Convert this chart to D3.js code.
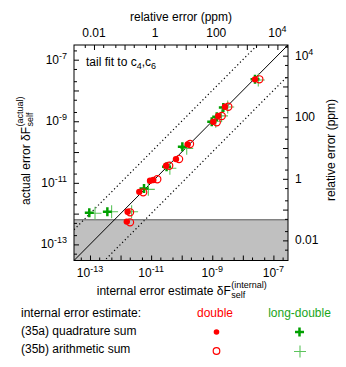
<!DOCTYPE html>
<html>
<head>
<meta charset="utf-8">
<script src="https://d3js.org/d3.v7.min.js"></script>
<style>
  body { margin: 0; background: #fff; }
  text { font-family: "Liberation Sans", Arial, sans-serif; font-size: 12px; fill: #000; }
</style>
</head>
<body>
<div id="chart"></div>
<script>
// each point: [internal error estimate, actual error]
var doubleQuad = [[1.7e-12, 1.15e-12], [1.6e-12, 5.5e-13], [4.1e-12, 5.1e-12], [9.2e-12, 1.17e-11],
  [1.18e-11, 1.23e-11], [3.1e-11, 3.6e-11], [6.5e-11, 5.9e-11], [1.57e-10, 1.78e-10],
  [1.08e-9, 9.6e-10], [1.57e-9, 1.5e-9], [2.6e-9, 2.96e-9], [2.5e-8, 2.3e-8]];
var doubleArith = [[2.04e-12, 1.1e-12], [2.04e-12, 5.2e-13], [5.5e-12, 4.9e-12], [1.59e-11, 1.3e-11],
  [3.9e-11, 3.6e-11], [8.2e-11, 5.9e-11], [1.87e-10, 1.82e-10], [1.4e-9, 9.2e-10],
  [2.04e-9, 1.48e-9], [3.34e-9, 2.96e-9], [3.46e-8, 2.3e-8]];
var longQuad = [[9.5e-14, 1.07e-12], [3.7e-13, 1.15e-12], [5.85e-12, 6.6e-12], [3.2e-11, 3.3e-11],
  [1.05e-10, 1.49e-10], [9.6e-10, 9.6e-10], [1.4e-9, 1.4e-9], [2.3e-9, 2.8e-9], [2.5e-8, 2.3e-8]];
var longArith = [[1.46e-13, 1.03e-12], [5.1e-13, 1.15e-12], [2.3e-12, 1.15e-12], [8.1e-12, 6.15e-12],
  [4.1e-11, 2.96e-11], [1.46e-10, 1.32e-10], [1.3e-9, 1.0e-9], [2.0e-9, 1.5e-9],
  [3.2e-9, 2.9e-9], [3.2e-8, 2.2e-8]];

var decadeLabels = [-13, -11, -9, -7];        // exponents labelled on both error axes
var ppmTicks = [0.01, 1, 100, 1e4];
var ppmLabels = ["0.01", "1", "100", "10^4"];
var floorLevel = 6.3e-13;                       // shaded region below this
var refValue = 1.35e-5;                         // value used for relative error
var lineFactors = [0.1, 1, 10];

var W = 346, H = 367;
var L = 74, R = 288, T = 45, B = 260.5;
var lo = 3e-14, hi = 3e-7;

var svg = d3.select("#chart").append("svg").attr("width", W).attr("height", H);

var x = d3.scaleLog().domain([lo, hi]).range([L, R]);
var y = d3.scaleLog().domain([lo, hi]).range([B, T]);
var xp = d3.scaleLog().domain([lo / refValue * 1e6, hi / refValue * 1e6]).range([L, R]);
var yp = d3.scaleLog().domain([lo / refValue * 1e6, hi / refValue * 1e6]).range([B, T]);

function tickSet(scale) {
  var d = scale.domain(), out = [];
  for (var e = Math.floor(Math.log10(d[0])) - 1; e <= Math.ceil(Math.log10(d[1])); e++) {
    [1, 2, 5].forEach(function(m) {
      var v = m * Math.pow(10, e);
      if (v >= d[0] * 0.999 && v <= d[1] * 1.001) out.push(v);
    });
  }
  return out;
}
function isDecade(v) { return Math.abs(Math.log10(v) - Math.round(Math.log10(v))) < 1e-6; }

svg.append("defs").append("clipPath").attr("id", "clip")
  .append("rect").attr("x", L).attr("y", T).attr("width", R - L).attr("height", B - T);

var plot = svg.append("g").attr("clip-path", "url(#clip)");

// shaded floor
plot.append("rect")
  .attr("x", L).attr("y", y(floorLevel))
  .attr("width", R - L).attr("height", B - y(floorLevel))
  .attr("fill", "#c0c0c0");
plot.append("line")
  .attr("x1", L).attr("x2", R).attr("y1", y(floorLevel)).attr("y2", y(floorLevel))
  .attr("stroke", "#555").attr("stroke-width", 1);

// reference lines y = f * x
lineFactors.forEach(function(f) {
  plot.append("line")
    .attr("x1", x(lo)).attr("y1", y(lo * f))
    .attr("x2", x(hi)).attr("y2", y(hi * f))
    .attr("stroke", "#000")
    .attr("stroke-width", f === 1 ? 1 : 1.2)
    .attr("stroke-dasharray", f === 1 ? null : "1.2,2.6");
});

// axes (ticks inward)
function tickAxis(axisFn, scale, transform) {
  var all = tickSet(scale);
  var maj = all.filter(isDecade), min = all.filter(function(v) { return !isDecade(v); });
  [[maj, -5], [min, -3]].forEach(function(p) {
    var g = svg.append("g").attr("transform", transform)
      .call(axisFn(scale).tickValues(p[0]).tickSize(p[1]).tickFormat(""));
    g.select(".domain").remove();
    g.selectAll(".tick line").attr("stroke", "#000");
  });
}
tickAxis(d3.axisBottom, x, "translate(0," + B + ")");
tickAxis(d3.axisTop, xp, "translate(0," + T + ")");
tickAxis(d3.axisLeft, y, "translate(" + L + ",0)");
tickAxis(d3.axisRight, yp, "translate(" + R + ",0)");

svg.append("rect").attr("x", L).attr("y", T).attr("width", R - L).attr("height", B - T)
  .attr("fill", "none").attr("stroke", "#000").attr("stroke-width", 1);

// labels with superscript powers
function powerText(sel, label) {
  var parts = String(label).split("^");
  sel.append("tspan").text(parts[0]);
  if (parts.length > 1) {
    sel.append("tspan").attr("dy", -5).style("font-size", "9px").text(parts[1]);
  }
}
decadeLabels.forEach(function(e) {
  var v = Math.pow(10, e);
  powerText(svg.append("text").attr("x", x(v)).attr("y", 277).attr("text-anchor", "middle"), "10^" + e);
  powerText(svg.append("text").attr("x", 67).attr("y", y(v) + 4).attr("text-anchor", "end"), "10^" + e);
});
ppmTicks.forEach(function(v, i) {
  powerText(svg.append("text").attr("x", xp(v)).attr("y", 37).attr("text-anchor", "middle"), ppmLabels[i]);
  powerText(svg.append("text").attr("x", 295).attr("y", yp(v) + 4).attr("text-anchor", "start"), ppmLabels[i]);
});

// titles
svg.append("text").attr("x", 181).attr("y", 20.5).attr("text-anchor", "middle").text("relative error (ppm)");
svg.append("text").attr("transform", "translate(335,150) rotate(-90)")
  .attr("text-anchor", "middle").text("relative error (ppm)");

function stackedTitle(cx, cy, rot, main, sub, sup) {
  var outer = svg.append("g").attr("transform", "translate(" + cx + "," + cy + ") rotate(" + rot + ")");
  var g = outer.append("g");
  var t = g.append("text").text(main);
  var w = t.node().getComputedTextLength();
  var s1 = g.append("text").attr("x", w + 0.5).attr("y", 3).style("font-size", "9px").text(sub);
  var s2 = g.append("text").attr("x", w + 0.5).attr("y", -7.5).style("font-size", "9px").text(sup);
  var total = w + Math.max(s1.node().getComputedTextLength(), s2.node().getComputedTextLength());
  g.attr("transform", "translate(" + (-total / 2) + ",0)");
}
stackedTitle(181.5, 295, 0, "internal error estimate \u03B4F", "self", "(internal)");
stackedTitle(30, 151, -90, "actual error \u03B4F", "self", "(actual)");

var tail = svg.append("text").attr("x", 86).attr("y", 66);
tail.append("tspan").text("tail fit to c");
tail.append("tspan").attr("dy", 3).style("font-size", "9px").text("4");
tail.append("tspan").attr("dy", -3).text(",c");
tail.append("tspan").attr("dy", 3).style("font-size", "9px").text("6");

// markers
var red = "#ff0000", green = "#00a000", lightGreen = "#5cc45c";
function plus(g, cx, cy, arm, color, sw) {
  g.append("path")
    .attr("d", "M" + (cx - arm) + "," + cy + "H" + (cx + arm) + "M" + cx + "," + (cy - arm) + "V" + (cy + arm))
    .attr("stroke", color).attr("stroke-width", sw).attr("fill", "none");
}
var marks = svg.append("g").attr("clip-path", "url(#clip)");
longArith.forEach(function(d) { plus(marks, x(d[0]), y(d[1]), 6.5, lightGreen, 1.1); });
longQuad.forEach(function(d) { plus(marks, x(d[0]), y(d[1]), 4.5, green, 2.5); });
marks.selectAll("circle.dq").data(doubleQuad).enter().append("circle")
  .attr("cx", function(d) { return x(d[0]); }).attr("cy", function(d) { return y(d[1]); })
  .attr("r", 3.2).attr("fill", red);
marks.selectAll("circle.da").data(doubleArith).enter().append("circle")
  .attr("cx", function(d) { return x(d[0]); }).attr("cy", function(d) { return y(d[1]); })
  .attr("r", 3.6).attr("fill", "none").attr("stroke", red).attr("stroke-width", 1.2);

// legend
svg.append("text").attr("x", 21).attr("y", 317).text("internal error estimate:");
svg.append("text").attr("x", 215).attr("y", 317).attr("text-anchor", "middle").style("fill", red).text("double");
svg.append("text").attr("x", 299.5).attr("y", 317).attr("text-anchor", "middle").style("fill", "#1aa51a").text("long-double");
svg.append("text").attr("x", 21).attr("y", 335).text("(35a) quadrature sum");
svg.append("text").attr("x", 21).attr("y", 353).text("(35b) arithmetic sum");
svg.append("circle").attr("cx", 216.5).attr("cy", 332).attr("r", 2.8).attr("fill", red);
svg.append("circle").attr("cx", 216.5).attr("cy", 351).attr("r", 3.3).attr("fill", "none").attr("stroke", red).attr("stroke-width", 1.2);
plus(svg, 299.5, 332, 4.5, green, 2.5);
plus(svg, 300, 351.5, 6, lightGreen, 1.1);
</script>
</body>
</html>
